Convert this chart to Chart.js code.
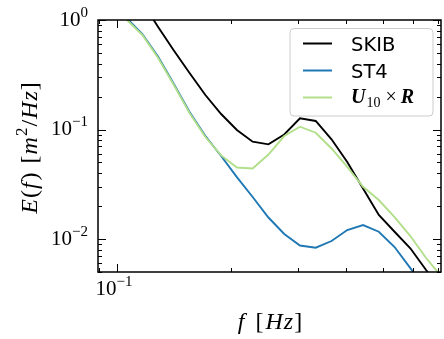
<!DOCTYPE html>
<html>
<head>
<meta charset="utf-8">
<script src="https://cdn.jsdelivr.net/npm/chart.js@4.4.1/dist/chart.umd.min.js"></script>
<style>
  html, body { margin: 0; padding: 0; background: #fff; }
</style>
</head>
<body>
<canvas id="spectrum-chart" width="444" height="339"></canvas>
<script>
// Frequencies [Hz] (log spaced, factor 1.1)
const freqs = [0.1062, 0.1169, 0.1286, 0.1414, 0.1555, 0.1711, 0.1882, 0.2070, 0.2277, 0.2505,
               0.2756, 0.3031, 0.3334, 0.3668, 0.4034, 0.4438, 0.4882, 0.5370, 0.5907, 0.6497, 0.7147];

// Energy density E(f) [m^2/Hz]
const skib = [null, 1.45, 0.863, 0.527, 0.328, 0.2065, 0.1385, 0.0990, 0.0774, 0.0732,
              0.0900, 0.1266, 0.1196, 0.0814, 0.0505, 0.0290, 0.01657, 0.01166, 0.00823, 0.00521, 0.00342];
const st4 = [1.043, 0.745, 0.4623, 0.2603, 0.1445, 0.0872, 0.0573, 0.0368, 0.0242, 0.01572,
             0.01111, 0.00872, 0.00833, 0.00959, 0.01209, 0.01342, 0.01166, 0.00845, 0.00543, 0.00342, null];
const u10r = [1.01, 0.7297, 0.4498, 0.2549, 0.1415, 0.0854, 0.058, 0.0450, 0.0440, 0.0591,
              0.0872, 0.1061, 0.0935, 0.0671, 0.0455, 0.0300, 0.0227, 0.01588, 0.01065, 0.00671, 0.00450];

const seriesNames = ['SKIB', 'ST4', 'U10xR'];
const seriesColors = ['#000000', '#1f78b4', '#b2df8a'];

// Axis limits and tick labels
const xMin = 0.0894, xMax = 0.711;
const yMin = 0.005, yMax = 1;
const xMajor = [0.1];
const xMinor = [0.09, 0.2, 0.3, 0.4, 0.5, 0.6, 0.7];
const yMajor = [0.01, 0.1, 1];
const yMinor = [0.005, 0.006, 0.007, 0.008, 0.009, 0.02, 0.03, 0.04, 0.05, 0.06, 0.07, 0.08, 0.09,
                0.2, 0.3, 0.4, 0.5, 0.6, 0.7, 0.8, 0.9];
const xTickLabels = ['\u22121'];
const yTickLabels = ['\u22122', '\u22121', '0'];

const SERIF = '"Liberation Serif", "DejaVu Serif", serif';

function fontFor(style, size) {
    let f = '';
    if (style.includes('i')) f += 'italic ';
    if (style.includes('b')) f += 'bold ';
    return f + size + 'px ' + SERIF;
}

// parts: [text, style, shift, gapAfter]
function richLayout(ctx, parts, size) {
    let w = 0;
    const items = parts.map(p => {
        const [text, style, shift, gap] = p;
        const s = shift ? Math.round(size * 0.7) : size;
        ctx.font = fontFor(style || '', s);
        const tw = ctx.measureText(text).width;
        const item = { text, font: ctx.font, x: w, dy: shift === 'sup' ? -size * 0.42 : (shift === 'sub' ? size * 0.2 : 0) };
        w += tw + (gap || 0);
        return item;
    });
    return { items, width: w };
}

function drawRich(ctx, parts, x, y, size, align) {
    const lay = richLayout(ctx, parts, size);
    let x0 = x;
    if (align === 'center') x0 = x - lay.width / 2;
    if (align === 'right') x0 = x - lay.width;
    ctx.textBaseline = 'alphabetic';
    ctx.textAlign = 'left';
    lay.items.forEach(it => {
        ctx.font = it.font;
        ctx.fillText(it.text, x0 + it.x, y + it.dy);
    });
}

// Frame, inward ticks, tick labels, axis titles and legend
const decorPlugin = {
    id: 'decor',
    afterDraw(chart) {
        const ctx = chart.ctx;
        const a = chart.chartArea;
        const xs = chart.scales.x, ys = chart.scales.y;
        ctx.save();
        ctx.strokeStyle = '#000';
        ctx.fillStyle = '#000';

        // ticks on all four sides
        ctx.lineWidth = 1;
        const tick = (px, len, vertical) => {
            ctx.beginPath();
            if (vertical) {
                ctx.moveTo(px, a.bottom); ctx.lineTo(px, a.bottom - len);
                ctx.moveTo(px, a.top); ctx.lineTo(px, a.top + len);
            } else {
                ctx.moveTo(a.left, px); ctx.lineTo(a.left + len, px);
                ctx.moveTo(a.right, px); ctx.lineTo(a.right - len, px);
            }
            ctx.stroke();
        };
        xMajor.forEach(v => tick(Math.round(xs.getPixelForValue(v)) + 0.5, 8, true));
        xMinor.forEach(v => tick(Math.round(xs.getPixelForValue(v)) + 0.5, 4, true));
        yMajor.forEach(v => tick(Math.round(ys.getPixelForValue(v)) + 0.5, 8, false));
        yMinor.forEach(v => tick(Math.round(ys.getPixelForValue(v)) + 0.5, 4, false));

        // frame
        ctx.lineWidth = 1.5;
        ctx.strokeRect(a.left, a.top, a.right - a.left, a.bottom - a.top);

        // tick labels
        xMajor.forEach((v, i) => {
            drawRich(ctx, [['10', ''], [xTickLabels[i], '', 'sup']], xs.getPixelForValue(v) - 2.5, a.bottom + 23, 21, 'center');
        });
        yMajor.forEach((v, i) => {
            drawRich(ctx, [['10', ''], [yTickLabels[i], '', 'sup']], a.left - 10, ys.getPixelForValue(v) + 5.5, 21, 'right');
        });

        // axis titles
        drawRich(ctx, [['f', 'i', null, 11], ['[', '', null, 2], ['H', 'i', null, 1], ['z', 'i', null, 1], [']', '']], 270, 329, 24, 'center');
        ctx.save();
        ctx.translate(37, 148);
        ctx.rotate(-Math.PI / 2);
        drawRich(ctx, [['E', 'i', null, 1], ['(', '', null, 1], ['f', 'i', null, 2], [')', '', null, 9], ['[', '', null, 1],
                       ['m', 'i', null, 1], ['2', '', 'sup', 1], ['/', '', null, 1], ['H', 'i', null, 1], ['z', 'i', null, 1], [']', '']],
                 0, 0, 24, 'center');
        ctx.restore();

        // legend
        const lx = 290, ly = 28.5, lw = 143, lh = 87.5;
        ctx.fillStyle = 'rgba(255,255,255,0.85)';
        ctx.strokeStyle = '#cccccc';
        ctx.lineWidth = 1;
        ctx.beginPath();
        ctx.roundRect(lx, ly, lw, lh, 4);
        ctx.fill();
        ctx.stroke();
        const rows = [43.5, 70.5, 97.5];
        chart.data.datasets.forEach((ds, i) => {
            ctx.strokeStyle = ds.borderColor;
            ctx.lineWidth = 2;
            ctx.beginPath();
            ctx.moveTo(303, rows[i]);
            ctx.lineTo(332, rows[i]);
            ctx.stroke();
            ctx.fillStyle = '#000';
            if (ds.label === 'U10xR') {
                drawRich(ctx, [['U', 'bi', null, 1], ['10', '', 'sub', 5], ['\u00d7', '', null, 4], ['R', 'bi']], 351, rows[i] + 5, 20, 'left');
            } else {
                ctx.font = '19.5px "DejaVu Sans", sans-serif';
                ctx.textAlign = 'left';
                ctx.textBaseline = 'alphabetic';
                ctx.fillText(ds.label, 351, rows[i] + 7.5);
            }
        });
        ctx.restore();
    }
};

function makeDataset(values, i) {
    return {
        label: seriesNames[i],
        data: freqs.map((f, k) => ({ x: f, y: values[k] })),
        borderColor: seriesColors[i],
        backgroundColor: seriesColors[i],
        borderWidth: 1.9,
        pointRadius: 0,
        tension: 0,
        fill: false,
        clip: 0,
        order: 2 - i // last series drawn on top
    };
}

const ctx = document.getElementById('spectrum-chart').getContext('2d');
new Chart(ctx, {
    type: 'line',
    data: {
        datasets: [makeDataset(skib, 0), makeDataset(st4, 1), makeDataset(u10r, 2)]
    },
    options: {
        responsive: false,
        animation: false,
        devicePixelRatio: 1,
        layout: { padding: { left: 98, top: 20, right: 3, bottom: 67 } },
        scales: {
            x: { type: 'logarithmic', min: xMin, max: xMax, display: false },
            y: { type: 'logarithmic', min: yMin, max: yMax, display: false }
        },
        plugins: {
            legend: { display: false },
            tooltip: { enabled: false }
        }
    },
    plugins: [decorPlugin]
});
</script>
</body>
</html>
